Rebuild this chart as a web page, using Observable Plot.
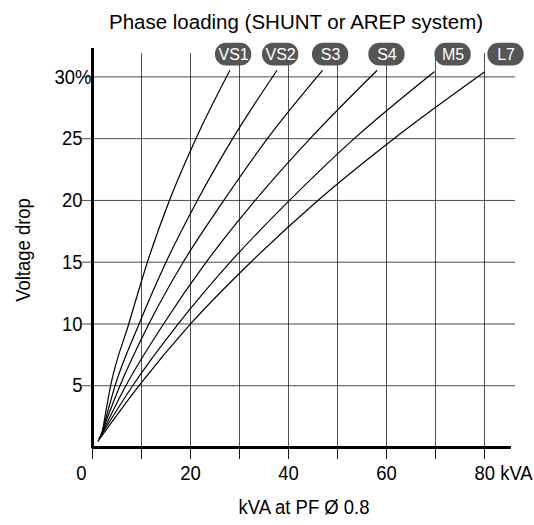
<!DOCTYPE html>
<html>
<head>
<meta charset="utf-8">
<script src="https://cdn.jsdelivr.net/npm/d3@7"></script>
<script src="https://cdn.jsdelivr.net/npm/@observablehq/plot@0.6"></script>
<style>
  body { margin: 0; background: #fff; }
  #wrap { position: relative; width: 534px; height: 525px; }
  #title { position: absolute; top: 4px; left: 296px; transform: translateX(-50%); white-space: nowrap;
           font-family: "Liberation Sans", Arial, sans-serif;
           font-size: 20.5px; line-height: 36px; color: #000; }
  svg text { font-family: "Liberation Sans", Arial, sans-serif; }
</style>
</head>
<body>
<div id="wrap"><div id="title">Phase loading (SHUNT or AREP system)</div></div>
<script>
// ---- data ----
const series    = ["VS1", "VS2", "S3", "S4", "M5", "L7"];
const startKva  = [2.0, 1.9, 1.7, 1.5, 1.3, 1.1];
const startDrop = [1.2, 1.1, 1.0, 0.8, 0.7, 0.5];
const dropLevels = [5, 10, 15, 20, 25];
const kvaAt5    = [3.7, 4.6, 5.6, 6.8, 8.2, 9.5];
const kvaAt10   = [7.4, 9.5, 11.5, 14.5, 17.5, 20.0];
const kvaAt15   = [11.2, 15.0, 18.5, 23.2, 28.1, 32.3];
const kvaAt20   = [15.7, 21.4, 26.8, 33.2, 40.2, 46.0];
const kvaAt25   = [21.1, 28.6, 35.7, 44.4, 53.4, 61.5];
const endKva    = [28.0, 37.6, 46.9, 58.0, 69.7, 80.0];
const endDrop   = [30.5, 30.5, 30.5, 30.5, 30.4, 30.4];
const labelKva  = [28.8, 38.4, 48.6, 60.1, 73.6, 84.4];
const labelDrop = 31.8;

const xGrid = [10, 20, 30, 40, 50, 60, 70, 80];
const xTicks = [0, 10, 20, 30, 40, 50, 60, 70, 80];
const xTickLabels = [20, 40, 60];
const yGrid = [5, 10, 15, 20, 25, 30];
const yTickLabels = [5, 10, 15, 20, 25];

// ---- build table ----
const levelArrays = [kvaAt5, kvaAt10, kvaAt15, kvaAt20, kvaAt25];
const curves = [];
series.forEach((s, i) => {
  curves.push({series: s, kva: startKva[i], drop: startDrop[i]});
  dropLevels.forEach((lv, j) => curves.push({series: s, kva: levelArrays[j][i], drop: lv}));
  curves.push({series: s, kva: endKva[i], drop: endDrop[i]});
});
const pills = series.map((s, i) => ({series: s, kva: labelKva[i], drop: labelDrop}));

const pillHalfW = 3.7, pillHalfH = 0.92;

const chart = Plot.plot({
  width: 534,
  height: 525,
  marginLeft: 92,
  marginRight: 19,
  marginTop: 48,
  marginBottom: 78,
  x: {domain: [0, 86.33], axis: null},
  y: {domain: [0, 32.3], axis: null},
  style: {fontFamily: "Liberation Sans, Arial, sans-serif", background: "white"},
  marks: [
    Plot.ruleX(xGrid, {y1: 0, y2: 31.9, stroke: "#111", strokeOpacity: 0.75, strokeWidth: 1}),
    Plot.ruleY(yGrid, {x1: -2.04, x2: 86.33, stroke: "#111", strokeOpacity: 0.75, strokeWidth: 1}),
    Plot.ruleX(xTicks, {y1: 0, y2: -0.97, stroke: "#111", strokeWidth: 1}),
    Plot.line(curves, {x: "kva", y: "drop", z: "series", curve: "monotone-x", stroke: "#000", strokeWidth: 1.2}),
    Plot.ruleX([0], {y1: -0.1, y2: 32.3, stroke: "#000", strokeWidth: 3}),
    Plot.ruleY([0], {x1: 0, x2: 85.5, stroke: "#000", strokeWidth: 3}),
    Plot.rect(pills, {x1: d => d.kva - pillHalfW, x2: d => d.kva + pillHalfW, y1: d => d.drop - pillHalfH, y2: d => d.drop + pillHalfH, rx: 11, ry: 11, fill: "#555555"}),
    Plot.text(pills, {x: "kva", y: "drop", text: "series", fill: "white", fontSize: 16}),
    // y tick labels
    Plot.text(yTickLabels, {x: 0, y: d => d, text: d => String(d), textAnchor: "end", dx: -10, fontSize: 21, fill: "#000"}),
    Plot.text([30], {x: 0, y: d => d, text: d => d + "%", textAnchor: "end", dx: -1, fontSize: 21, fill: "#000"}),
    // x tick labels
    Plot.text([0], {x: d => d, y: 0, text: d => String(d), dx: -11, dy: 26, fontSize: 21, fill: "#000"}),
    Plot.text(xTickLabels, {x: d => d, y: 0, text: d => String(d), dy: 26, fontSize: 21, fill: "#000"}),
    Plot.text([80], {x: d => d, y: 0, text: d => d + " kVA", textAnchor: "start", dx: -10, dy: 26, fontSize: 21, fill: "#000"}),
    // axis titles
    Plot.text(["Voltage drop"], {frameAnchor: "left", textAnchor: "middle", text: d => d, rotate: -90, dx: -69, dy: 2, fontSize: 21, fill: "#000"}),
    Plot.text(["kVA at PF Ø 0.8"], {frameAnchor: "bottom", text: d => d, dy: 66, fontSize: 21, fill: "#000"})
  ]
});
// narrow the glyphs (the reference uses a condensed sans face)
d3.select(chart).selectAll("text").each(function() {
  if (series.includes(this.textContent)) return;
  const t = this.getAttribute("transform") || "";
  this.setAttribute("transform", t + " scale(0.88,1)");
});
document.getElementById("wrap").appendChild(chart);
</script>
</body>
</html>
